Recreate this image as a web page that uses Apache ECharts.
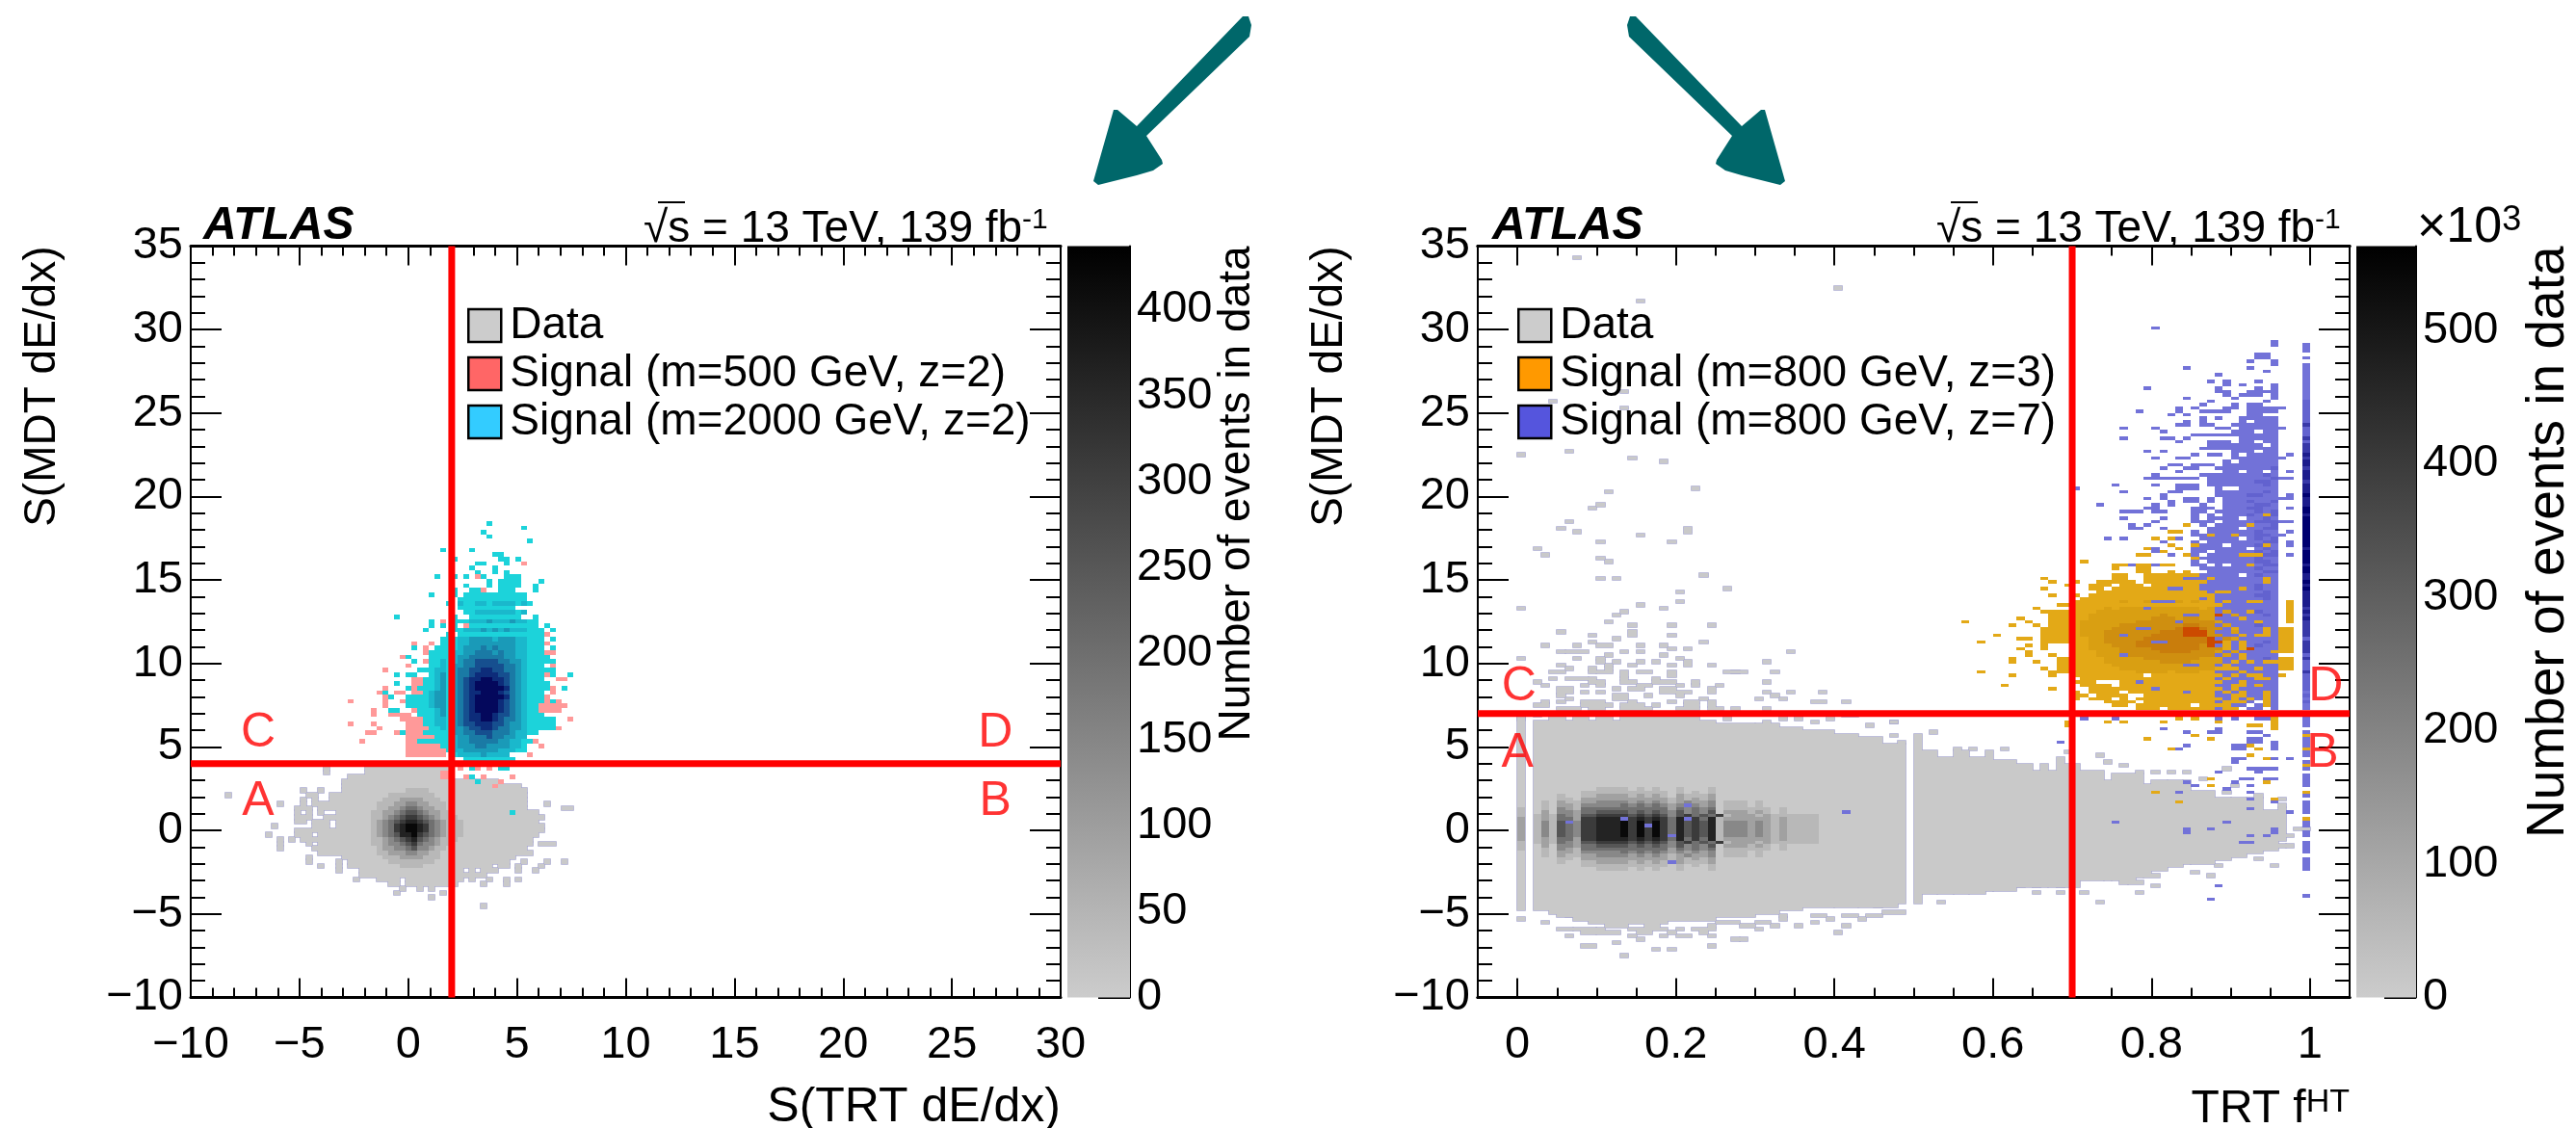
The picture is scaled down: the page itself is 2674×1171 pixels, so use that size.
<!DOCTYPE html>
<html><head><meta charset="utf-8">
<style>html,body{margin:0;padding:0;background:#fff}#c{width:2674px;height:1171px}</style>
<script src="https://cdn.jsdelivr.net/npm/echarts@6/dist/echarts.min.js"></script>
</head><body><div id="c"></div>
<script>
// ---- bins: every tuple below is [row, colStart, colEnd=colStart, level=1, rowEnd=row].
// ---- shaded cores are literal grids: one character per bin, top row first, '.' = nothing in that bin.
const leftBinW = 40/150, leftBinH = 40/150, rightBinW = 0.01, rightBinH = 0.2;
const leftCountLevels = [0,6,43,94,146,197,255,313,364,420];
const rightCountLevels = [0,8,55,120,187,253,325,401,467,538];
const leftMaxCount = 437, rightMaxCount = 563;

const leftData = [[52,32],[52,37,38],[52,39],[51,23],[51,30,44],[50,23],[50,30,44],[49,27,29],[49,30,44],[48,26,52],[47,26,56],[46,19],[46,22],[46,26,57],[45,6],[45,20,21],[45,24,57],[44,19],[44,21],[44,24,57],[43,15],[43,19],[43,21,57],[43,61],[42,18,20],[42,22,57],[42,64,65],[41,18],[41,20],[41,22],[41,25,57],[41,58,59],[40,18,20],[40,23,57],[40,58,60],[39,18,19],[39,21,23],[39,25,58],[39,59],[38,14],[38,21,23],[38,25,58],[38,59,60],[37,18,20],[37,21,60],[36,13],[36,18,20],[36,22,59],[35,15],[35,17],[35,19],[35,20,58],[34,15],[34,20],[34,22,58],[34,60,62],[33,15],[33,21,57],[32,22,58],[31,20],[31,26,55],[30,20],[30,25],[30,27,54],[30,57],[30,61],[30,64],[29,22],[29,25],[29,27,51],[29,53,54],[29,56],[29,60],[28,25],[28,29,46],[28,48],[28,50,52],[28,56],[28,59],[27,29,50],[26,28],[26,32,35],[26,37,46],[26,48],[26,51],[26,54],[26,56],[25,34,35],[25,37,45],[25,50],[25,54],[24,36],[24,39],[24,41],[23,35],[23,43],[22,41],[20,50]];
const leftDataCoreTop = 46, leftDataCoreCol = 28;
const leftDataCore = [
"11111111122221111111",
"11111122222222111111",
"11111222333322211111",
"11112223344332221111",
"11112233455433221111",
"11122334566543322111",
"11122345677654322211",
"11123456788765432221",
"11123457899875432221",
"11123457899875432221",
"11123456889765432221",
"11122345678654322211",
"11122344567544322111",
"11112334456443221111",
"11112233344332211111",
"11111222333322211111",
"11111122222222111111",
"11111111222211111111"];
const leftPink = [[66,27],[61,27],[63,31,31,1,64],[57,29],[59,30,31],[61,31],[60,32],[73,33],[76,36],[74,37],[79,38],[79,41],[77,40,40,1,78],[75,40],[69,33],[68,32],[65,33,33,1,67],[68,35,36],[68,38,39,1,71],[70,41],[59,35],[58,37,40,1,62],[63,34,37],[62,36,38],[54,37,43,1,58],[64,38,40],[66,36,38],[84,43],[82,47,47,1,84],[81,61],[79,61],[77,61,62],[74,62],[72,61],[71,63,64],[68,62,62,1,69],[67,61],[66,63],[64,60,63,1,66],[65,64],[62,65],[60,63],[60,60],[59,58],[57,59],[56,60],[58,57,57,1,59],[56,56],[54,58],[54,46,48],[53,51,54],[97,57],[93,55],[94,49],[91,50],[51,46],[51,49],[51,51],[49,43,44,1,50],[49,47],[49,50],[49,55],[48,53],[47,52]];
const leftCyan = [[106,51],[105,57],[104,50],[103,51],[102,58],[100,43],[100,48],[98,45],[99,52,53],[98,53,54],[98,56],[97,49,50],[97,54],[96,48],[96,52],[95,52],[95,54],[95,49],[94,42],[94,45],[94,47],[94,50],[94,54,56],[93,51],[93,53,56],[93,60],[92,47],[92,51],[92,53,56],[92,59],[91,45],[91,48,49],[91,53,55],[91,59],[90,41],[90,45],[90,47,57],[89,46,57],[88,44],[88,46,50],[88,52,57],[87,46,55],[86,47,56],[85,35],[85,45],[85,48,56],[85,59],[84,41],[84,45,46],[84,48,59],[83,41],[83,43],[83,45],[83,48,59],[83,61],[82,40],[82,45,46],[82,48,60],[82,62],[81,44],[81,46,60],[80,43,60],[80,62],[79,43,60],[78,38],[78,42,60],[78,62],[77,41,60],[76,37],[76,41,61],[75,38],[75,41,62],[74,41,60],[73,39,62],[72,35],[72,37,38],[72,41,60],[72,62],[72,65],[71,40,60],[70,35],[70,40,61],[69,37],[69,39,61],[69,64],[68,33],[68,40,60],[67,34],[67,37],[67,38,60],[66,37,60],[66,62],[65,37,59],[64,34,35],[64,39,59],[63,39,60],[62,40,62],[61,40,62],[60,41,62],[59,36],[59,40,59],[58,42,57],[57,39,41],[57,42,58],[56,43,57],[55,44,57],[54,45,53],[53,47,55],[51,48],[51,53,54],[49,48],[48,49],[41,55]];
const leftCyanCoreTop = 88, leftCyanCoreCol = 40;
const leftCyanCore = [
"......2.12212222121...",
"......................",
"........1222222212....",
"......................",
".......12223222322....",
"......................",
".......22232323222....",
"......................",
"......223333233322....",
"......223333333322....",
"....1.233343433322....",
"...1.2233444343322....",
"...1.2334444443322....",
"..12.2344555544332....",
"..12.3344555554432....",
"..22.3445566554432....",
"..23.3445666655432....",
"..23.3456677665432....",
".123.3456777765432....",
".123.3456777776432....",
".233.3456677765432....",
".233.3456777776432....",
".233.3456777765432....",
".233.3456777765432....",
"..23.3456777765432....",
"..23.3456677655432....",
"..22.3456677654432....",
"..22.3455666554332....",
"..12.3345566544332....",
"...1.3344555444322....",
"...1.2334445443322....",
"....12334444433221....",
".....2333443333221....",
".....2233333322211....",
"......222232222......."];

const rightData = [[26,0,0,1,84],[26,2,3,1,82],[25,4,4,1,82],[24,5,6,1,82],[23,7,8,1,82],[22,9,18,1,82],[23,19,24,1,82],[24,25,29,1,81],[25,30,32,1,81],[26,33,35,1,80],[27,36,39,1,79],[27,40,42,1,78],[27,43,45,1,77],[28,46,48,1,75],[28,50,50,1,78],[31,51,52,1,73],[31,53,54,1,71],[31,55,56,1,73],[31,57,58,1,71],[32,59,59,1,73],[32,60,62,1,70],[33,63,64,1,69],[33,65,65,1,67],[33,66,66,1,69],[33,67,67,1,67],[33,68,68,1,71],[33,69,70,1,69],[35,71,73,1,67],[35,74,74,1,64],[35,75,77,1,66],[36,78,78,1,66],[37,79,79,1,63],[38,80,81,1,64],[39,82,83,1,64],[40,84,84,1,64],[40,85,87,1,61],[41,88,89,1,59],[42,90,91,1,59],[43,92,93,1,59],[44,94,95,1,55],[47,96,96,1,56]];
const rightDataCoreTop = 62, rightDataCoreCol = 0;
const rightDataCore = [
"1.1111111122221212112111211111111111111",
"1.1111112222222222212121211111111111111",
"1.1112112233332323213222311111111111111",
"1.1112213333333333323232311111111111111",
"1.1213223344443434323433412221211111111",
"1.1213324444454545434343412221211111111",
"2.1214325555555555535454512222221211111",
"2.1314435566665656546454613332321211111",
"2.2325436677776767646756572333232222221",
"3.2325537788887878758575823333332322221",
"3.2426547788897979758676824443432322221",
"3.2426547788897979758676824443432322221",
"3.2426547788897979758676824443432322221",
"3.2426547788897979758676824443432322221",
"3.2426547788897979758676824443432322221",
"3.2325537788887878758575823333332322221",
"2.2325436677776767646756572333232222221",
"2.1314435566665656546454613332321211111",
"2.1214325555555555535454512222221211111",
"1.1213324444454545434343412221211111111",
"1.1213223344443434323433412221211111111",
"1.1112213333333333323232311111111111111",
"1.1112112233332323213222311111111111111",
"1.1111112222222222212121211111111111111",
"1.1111111122221212112111211111111111111"];
const rightDataStray = [[221,7],[212,40],[208,15],[181,13],[178,4],[176,13],[162,0],[163,6],[161,14],[160,18],[152,22],[151,11],[147,10],[146,9],[142,6],[140,5],[139,7],[139,21,21,1,140],[138,15],[136,19],[136,10],[134,2],[132,3],[131,10],[130,11],[125,10],[125,12],[126,23],[122,26],[121,20],[118,20],[117,15],[116,0],[116,18],[115,13],[114,12],[112,11],[111,14],[111,19],[111,24],[109,5],[108,9],[108,14,14,1,109],[108,19],[107,12],[106,23],[106,9],[105,3],[105,7],[105,10,11],[105,15],[105,18],[104,19],[104,21],[103,5],[103,6,8],[103,13],[103,15],[103,34],[101,10],[102,11],[102,18],[101,20],[101,0],[101,7],[100,10],[100,12],[100,15],[100,17],[99,21,21,1,100],[100,31],[99,5],[99,11],[99,14],[99,19],[99,24],[98,6],[98,9],[98,11],[97,32],[97,27,28],[97,4,5],[97,9],[97,10,11],[96,13,13,1,97],[96,19,19,1,97],[97,15,16],[97,26,27],[95,4],[95,6,8],[95,9],[95,17],[95,13],[94,22],[94,2],[94,31],[94,13,14],[94,9,10],[94,17,19],[93,3],[93,25],[93,15,16],[93,8],[93,10],[93,20],[93,22],[92,12],[92,14,15],[91,5,6,1,92],[91,8],[91,10],[91,18,19,1,92],[91,20,21],[91,24,24,1,92],[91,31],[91,34],[91,38],[90,5],[89,6],[90,20],[89,12,13,1,90],[90,16],[89,23],[89,30],[90,32],[89,33],[88,3],[88,41],[88,5],[88,8,10],[88,19],[88,21,22],[88,37,38],[87,24,24,1,88],[88,14],[87,2,3],[87,8,11],[87,13,15],[87,17],[87,21,22],[86,5,7],[86,9,10],[86,13,16],[86,20,22],[86,24,25],[86,27],[86,31],[83,0,0,1,84],[84,2],[83,4,5],[83,7,8],[83,10,11],[84,15],[83,13,22],[83,26],[83,33],[83,35],[82,37],[83,39],[84,41,42],[81,44],[82,47],[82,31],
[23,0],[22,3],[24,6],[18,6],[15,8,9],[16,12],[12,13],[14,17],[14,19],[15,24],[18,24],[17,28],[17,27],[18,20,21],[18,18],[19,10,12],[17,15],[20,5,6],[19,8,9],[20,10],[20,20],[21,24],[21,32],[21,41],[23,43],[23,39],[24,41,42],[24,37,38],[24,33],[28,53],[27,45],[27,46,47],[28,73],[31,71],[31,68],[33,68],[31,65],[33,65],[33,63],[31,78],[34,76],[34,77,78],[33,80],[36,79,80],[37,85],[36,87],[39,88],[41,93],[39,95],[45,90,91],[45,95,96],[45,97],[48,97],[50,98],[50,99],
[20,7,9],[21,11,13],[20,14,16],[19,15,16],[20,17,18],[19,19],[18,14],[21,16,17],[20,22,24],[19,23],[22,25,27],[21,28,29],[20,30],[22,30,31],[23,33],[21,35],[19,40],[22,37],[24,44,45],[25,46,48],
[82,47],[78,47],[76,48],[79,52],[74,55],[74,57],[74,61],[73,69],[72,73],[70,74],[69,76],[67,78],[67,80],[67,82],[67,84],[65,86],[68,89],[63,90],[60,93],[57,96],[59,96],[61,89]];
const rightOrange = [[112,56],[106,58],[108,60],[97,58],[100,62,62,1,101],[96,62],[93,61],[111,62],[113,63],[107,63],[107,64],[112,64],[105,64],[104,63],[103,64],[102,64],[111,65],[100,65],[116,65],[125,66],[122,66],[124,67],[120,67],[115,66],[98,66],[92,67],[96,67],[102,67],[123,69],[104,66,66,1,110],[106,67,69,1,114],[98,68,69,1,101],[97,67,69],[117,68,69],[115,67,69],
[86,78,80],[86,82,90],[86,92],[87,75,76],[87,78,84],[87,86,91],[88,74,77],[88,79,92],[89,70],[89,72,74],[89,76],[89,78,90],[89,92],[89,94],[90,70,71],[90,73,76],[90,79,93],[91,70],[91,72,75],[91,77,93],[92,72,93],[93,71,74],[93,76,93],[94,70,72],[94,76,95],[95,71,95],[96,70,78],[96,80,96],[97,70,95,1,118],[98,96,97,1,101],[103,96,97,1,110],[112,97,97,1,118],[119,71,95],[120,70],[120,72,95],[121,73,95],[122,72,73],[122,75,95],[123,72,74],[123,76,78],[123,80,95],[124,70],[124,73,77],[124,79,95],[125,75,76],[125,79,92],[126,75,76],[126,79,86],[126,88,90],[127,78,79],[127,82],[127,84],[127,87],[128,75],[128,78,79],[129,76],[129,80],
[137,80],[139,82],[141,84],[139,83],[137,82],[135,82],[134,79],[132,79],[132,78],[133,81],[134,83],[138,86,87],[130,71],[130,89],[135,85],[131,85],[129,75],[129,78,79],[129,81,82],[132,84],[134,87],
[81,69,69,1,82],[82,74],[82,76],[84,77],[82,81],[83,83],[83,85],[82,88],[81,92,93],[80,95,95,1,84],[77,79],[78,85],[77,87],[75,91,92],[74,82],[74,93],[72,92],[71,94],[65,87],[63,87],[64,94],[61,80],[58,83],[59,95]];
const rightOrangeCoreTop = 118, rightOrangeCoreCol = 70;
const rightOrangeCore = [
"......2..2..22.2.......",
".......................",
"....2.2222222222.2.....",
"...22222222222222222...",
"..2222222223222222222..",
"..2222222233323322222..",
".22222223333333333222..",
".22222333333334433322..",
".22223333333344443322..",
".22233333334444453322..",
".22233333344444553332..",
"..2233333444444443332..",
"..2233334444444444332..",
"..2223334444444434332..",
"..2222333344444433322..",
"...222333334444333222..",
"...222233333333333222..",
"....22222333333322222..",
"....222222233332222....",
".....22222222222222....",
"......222222222222.....",
"........2222.222......."];
const rightOrangeRed = [[108,84,85,5,110],[105,87,88,5,107],[114,88,88,5,115]];
const rightPurple = [[191,99],[193,99,99,1,194],[195,99],[30,99],
[200,80],[196,95],[195,95],[191,93,94,1,192],[190,92],[190,95],[189,95],[188,84],[188,92],[187,94],[186,88],[184,89],[184,93],[184,87],[183,91],[182,95,95,1,183],[183,89],[182,88],[182,93],[181,92],[181,93],[181,88,89],[181,94,95],[182,79],[179,84],[180,89],[179,90],[180,91],[180,92,93],[179,95,95,1,180],[178,94],[178,87],[177,86],[175,83,83,1,176],[176,89],[176,90,90,1,177],[174,92,93,1,177],[175,94,95,1,176],[176,85],[175,86,87],[175,88],[175,89],[176,96],[175,78],[174,82],[174,84],[173,88],[173,86],[171,84,84,1,172],[171,86,86,1,172],[171,87],[171,90],[171,83],[170,88,89],[170,96],[170,76],[170,80],[169,81],[168,85],[168,86,87],[168,88,89],[168,90],[167,84],[167,76],[167,81,82],[164,87,89,1,166],[166,83],[164,86],[163,79],[163,81],[162,87,88],[162,85],[161,83,84],[161,80],[162,97],[161,96],[159,82,83],[158,81],[159,85,87],[158,88,89],[158,84,85],[156,80],[157,97],[157,83],[156,86,89],[155,84,85],[155,79,84],[154,87,89,1,155],[155,97],[155,96],[153,80],[152,83,83,1,153],[153,84,85],[153,87,88],[153,75],[151,76],[152,70],[151,82,83],[152,84,85],[150,88,89,1,151],[149,87],[149,81,81,1,150],[149,79],[148,84,85,1,149],[149,97,97,1,150],[149,96],[147,82,82,1,148],[147,73],[146,80,80,1,147],[146,85],[146,79],[145,77],[145,76],[145,78],[145,80,81],[146,97],[145,85,86],[145,88],[143,76],[143,81],[143,85,85,1,144],[142,97],[142,96],[142,80],[141,77],[140,77,78],[141,79],[140,81],[142,85],[139,97],[138,96],[137,74],[137,76],[137,83],[136,81],[135,97,97,1,136],[133,80,80,1,134],[132,82],[132,97],[129,77],[129,80],[125,84,86],[122,82,83],[118,80,82],[114,84,85],[110,78,79],[112,83],[106,80,81],[102,76],[99,84,85],[94,78],[92,80],[91,84],[108,76],[116,79],
[83,88],[83,93,94],[83,90],[79,88,88,1,80],[79,84],[79,87],[80,81],[79,92],[78,94],[79,93],[76,92,93,1,77],[76,95],[74,90,91,1,75],[74,95,95,1,75],[75,84],[74,83],[71,90,91],[70,90],[71,95],[71,97],[68,92,95],[67,93],[67,88],[65,91],[65,92],[65,94,95],[64,84],[63,85],[64,90],[63,92],[62,89],[61,83],[61,92],[59,92],[58,95],[56,92],[55,97],[52,75],[52,89],[49,84,84,1,50],[50,87],[49,95,95,1,50],[48,92],[48,94],[46,91,92],[76,68],[83,71],[83,75],
[52,6],[53,13],[51,16],[48,19],[57,21],[53,21],[40,19],[55,41],[33,88],[29,87]];
const rightPurpleCoreTop = 174, rightPurpleCoreCol = 84;
const rightPurpleCore = [
"........11...",".......11111.",".......1.111.","......111111.",".......11111.","......111.11.","......111111.",".......11111.",".......11.11.","......1111.1.",
"......111111.","......111.11.","......1.1111.","......111111.",".....1.11111.",".....1111111.","......111112.",".....11.11.1.","......111121.","....11111112.",
"....1.111221.",".....1111121.","....1..11111.","....1.111121.",".....1112211.",".....1111111.","...1.1112112.","..1..1111221.","..11.1112211.","..1.11111212.",
"...1.1112122.","...1111.1121.","..11.1111222.","..1.11112112.","...1111.1122.",".1.111111211.",".11.11111221.","..11111.1212.",".1.111111122.","..111.111221.",
".1111111.121.",".11.11111212.",".1.111111122.","..1111111211.",".1.111111221.",".11.1.111122.","..1111111211.","...111111122.","..11111.1211.","..1.11111121.",
"...1111111.1.","..1111111211.","..11111.1211.","...1.1111121.","....11111221.","..1.11111121.","....1.11.111.",".....1111111.","....11111111.","....1.111211.",
".....1.11121.","....111.1111.",".....1111111.","....1.111211.",".....1.11121.","....11.11111.",".....1111.11.","....1..11111.",".....11.1121.","....111.1211.",
".....11.1111.",".....1.11111.","....1.1.1111.",".....11.1121.",".....1.1.111.","....1.111111.",".....1.11.11.","....111.1111.",".....1.1.111.","....1.111.11.",
".....11.1111.","....11..1.11.",".....1.11111.","....1.1.11.1.","....11..1111.",".....1.1.111.","....1...1.11.","......11.111.","....1...11.1."];
const rightStripTop = 189, rightStripCol = 99;
const rightStripLevels = "11111111111222222232223233343443444344454445545555555554555545544545444443434333332333323222322222121211";
const rightStripBelowTop = 84;
const rightStripBelow = "1111.11111111.111.1111.11.1111.111.11.1111.1111";
const rightOrangeTop = [[124,94,94,1,125],[108,94,94,1,110],[104,92,92,5,104],[112,93],[108,91],[115,92],[96,92,93],[95,94],[93,93],[87,94,94,1,91],[129,92],[135,94],[118,93],[100,94,95],[104,89,89,1,106],[110,90],[98,88,90],[121,89],[113,91],[103,95],[132,91,93],[138,90],[141,92],[144,94],[74,99],[78,99],[61,99],[53,99],[69,99]];

const arrowPoints = [[1156,114],[1160,114],[1180,131],[1290,17],[1296,17],[1299,26],[1297,38],[1190,141],[1206,166],[1207,170],[1197,177],[1180,182],[1140,192],[1135,188]];
const leftRegionLabels = [[-6.9,5.8,'C'],[-6.9,1.7,'A'],[27,5.8,'D'],[27,1.7,'B']];
const rightRegionLabels = [[0.002,8.6,'C'],[0,4.6,'A'],[1.02,8.6,'D'],[1.016,4.6,'B']];
const leftCutX = 2, leftCutY = 4, rightCutX = 0.7, rightCutY = 7;
const rightMajorTicks = [0,0.2,0.4,0.6,0.8,1];
const rightMinorTicks = [0,0.05,0.1,0.15,0.2,0.25,0.3,0.35,0.4,0.45,0.5,0.55,0.6,0.65,0.7,0.75,0.8,0.85,0.9,0.95,1];
const rightBarTicks = [0,100,200,300,400,500];
const leftBarTicks = [0,50,100,150,200,250,300,350,400];

const greyRamp = ['#cccccc','#000000'];
const cyanRamp = ['#1cd3da','#1ab8cc','#1a9ab8','#1a7aa5','#164f8f','#0d2c7a','#04085c'];
const orangeRamp = ['#e3a917','#d99f12','#cf8f10','#c97d0c','#cc4a00'];
const purpleRamp = ['#7272d8','#6262cf','#3838a8','#1c1c8c','#000070'];

const font = 'Liberation Sans';
const TICK = 47;

function grid(col, topRow, rows) {
  const out = [];
  rows.forEach((s, i) => {
    for (let k = 0; k < s.length; k++) {
      if (s[k] !== '.') out.push([topRow - i, col + k, col + k, +s[k]]);
    }
  });
  return out;
}
function cells(list, binW, binH, xOrigin, yOrigin, levels) {
  return list.map(t => {
    const [r, c0, c1 = c0, L = 1, r1 = r] = t;
    return [xOrigin + c0 * binW, yOrigin + r * binH, xOrigin + (c1 + 1) * binW, yOrigin + (r1 + 1) * binH, levels ? levels[L] : L];
  });
}
const leftCells = (list, levels) => cells(list, leftBinW, leftBinH, -10, -10, levels);
const rightCells = (list, levels) => cells(list, rightBinW, rightBinH, 0, -10, levels);

function cellSeries(name, data, axisX, axisY, colorAt, legendColor, edge) {
  return {
    type: 'custom', name, silent: true, clip: true, progressive: 0, animation: false,
    xAxisIndex: axisX, yAxisIndex: axisY, data,
    itemStyle: {color: legendColor},
    encode: {x: [0, 2], y: [1, 3]},
    renderItem(params, api) {
      const a = api.coord([api.value(0), api.value(1)]);
      const b = api.coord([api.value(2), api.value(3)]);
      const x = Math.round(a[0]), x2 = Math.round(b[0]), y = Math.round(b[1]), y2 = Math.round(a[1]);
      return {type: 'rect', shape: {x, y, width: x2 - x, height: y2 - y},
        style: edge ? {fill: '#c9c9c9', stroke: '#aaaacf', lineWidth: 1.6} : {fill: colorAt(api.value(4))}};
    }
  };
}
const greyAt = max => v => echarts.color.lerp(v / max, greyRamp);
const rampAt = ramp => L => ramp[Math.min(L - 1, ramp.length - 1)];

function cutSeries(x, y, lo, hi, ax, ay) {
  return [[[x, -10], [x, 35]], [[lo, y], [hi, y]]].map(d => ({
    type: 'line', data: d, xAxisIndex: ax, yAxisIndex: ay, showSymbol: false, symbol: 'none', silent: true, z: 6,
    lineStyle: {color: '#ff0000', width: 7, cap: 'butt'}
  }));
}
function regionSeries(data, ax, ay) {
  return {type: 'scatter', data, xAxisIndex: ax, yAxisIndex: ay, symbolSize: 1, silent: true, z: 7,
    itemStyle: {color: 'transparent'},
    label: {show: true, position: 'inside', formatter: p => p.value[2], color: '#ff0000', fontFamily: font, fontSize: 50}};
}
const tickStyle = {color: '#000', width: 2};
const minus = v => String(v).replace('-', '\u2212');
function mainX(g, pos, extra) {
  return Object.assign({type: 'value', gridIndex: g, position: pos, splitLine: {show: false},
    axisLine: {show: true, onZero: false, lineStyle: {color: '#000', width: 3}}}, extra);
}
function yAx(g, pos, labels, name) {
  const a = {type: 'value', gridIndex: g, position: pos, min: -10, max: 35, interval: 5, splitLine: {show: false},
    axisLine: {show: true, onZero: false, lineStyle: {color: '#000', width: 2}},
    axisTick: {show: true, inside: true, length: 32, lineStyle: tickStyle},
    minorTick: {show: true, splitNumber: 5, length: 15, lineStyle: tickStyle},
    axisLabel: {show: labels, fontFamily: font, fontSize: TICK, color: '#000', margin: 8, formatter: minus, padding: [20, 0, 0, 0]}};
  if (name) {
    a.name = name; a.nameLocation = 'end'; a.nameRotate = 90; a.nameGap = 0; a.nameMoveOverlap = false;
    a.nameTextStyle = {fontFamily: font, fontSize: 46, color: '#000', align: 'right', verticalAlign: 'bottom', padding: [0, 0, 131, 0]};
  }
  return a;
}
function barAxes(g, max, ticks, fs, pad) {
  return {
    x: {type: 'category', gridIndex: g, data: ['counts'], show: false},
    y: {type: 'value', gridIndex: g, position: 'right', min: 0, max, splitLine: {show: false},
      axisLine: {show: true, onZero: false, lineStyle: {color: '#000', width: 2}},
      axisTick: {show: true, inside: true, length: 33, customValues: ticks, lineStyle: tickStyle},
      axisLabel: {fontFamily: font, fontSize: TICK, color: '#000', margin: 7, customValues: ticks, padding: [20, 0, 0, 0]},
      name: 'Number of events in data', nameLocation: 'end', nameRotate: 90, nameGap: 0, nameMoveOverlap: false,
      nameTextStyle: {fontFamily: font, fontSize: fs, color: '#000', align: 'right', verticalAlign: 'top', padding: [pad, 0, 0, 0]}}
  };
}
function barSeries(max, ax, ay) {
  return {type: 'bar', data: [max], xAxisIndex: ax, yAxisIndex: ay, barWidth: '100%', silent: true,
    itemStyle: {color: new echarts.graphic.LinearGradient(0, 0, 0, 1, [{offset: 0, color: '#000000'}, {offset: 1, color: '#cccccc'}])}};
}
function legendOf(left, entries) {
  return {left, top: 315, padding: 0, orient: 'vertical', itemWidth: 34, itemHeight: 34, itemGap: 4, selectedMode: false,
    textStyle: {fontFamily: font, fontSize: 46, color: '#000', padding: [0, 0, 0, 4]},
    data: entries.map(e => ({name: e[0], icon: 'rect', itemStyle: {color: e[1], borderColor: '#000', borderWidth: 2.5}}))};
}
function headerTexts(atlasX, lumiX, lumiLineX) {
  return [
    {type: 'text', style: {x: atlasX, y: 259, text: 'ATLAS', font: 'italic bold 48px "Liberation Sans"', fill: '#000', verticalAlign: 'bottom'}},
    {type: 'text', style: {x: lumiX, y: 262, text: '{a|\u221As = 13 TeV, 139 fb}{b|-1}', verticalAlign: 'bottom',
      rich: {a: {font: '46px "Liberation Sans"', color: '#000'}, b: {font: '30px "Liberation Sans"', color: '#000', verticalAlign: 'top', padding: [0, 0, 18, 0]}}}},
    {type: 'line', shape: {x1: lumiLineX, y1: 210, x2: lumiLineX + 28, y2: 210}, style: {stroke: '#000', lineWidth: 2}}
  ];
}

const chart = echarts.init(document.getElementById('c'), null, {renderer: 'canvas', width: 2674, height: 1171});
const leftBar = barAxes(1, leftMaxCount, leftBarTicks, 46, 88);
const rightBar = barAxes(3, rightMaxCount, rightBarTicks, 55, 110);

const leftDataAll = leftData.concat(grid(leftDataCoreCol, leftDataCoreTop, leftDataCore));
const rightDataAll = rightData.concat(rightDataStray);
const purpleAll = grid(rightPurpleCoreCol, rightPurpleCoreTop, rightPurpleCore)
  .concat(rightPurple, grid(rightStripCol, rightStripTop, rightStripLevels.split('')), grid(rightStripCol, rightStripBelowTop, rightStripBelow.split('')));

const noBounds = {outerBoundsMode: 'none', containLabel: false};
chart.setOption({
  animation: false,
  backgroundColor: '#fff',
  grid: [
    Object.assign({left: 198, top: 255.5, width: 903, height: 780}, noBounds),
    Object.assign({left: 1108, top: 255.5, width: 65, height: 780}, noBounds),
    Object.assign({left: 1534, top: 255.5, width: 905, height: 780}, noBounds),
    Object.assign({left: 2446, top: 255.5, width: 62, height: 780}, noBounds)
  ],
  xAxis: [
    mainX(0, 'bottom', {min: -10, max: 30, interval: 5,
      axisTick: {show: true, inside: true, length: 20, lineStyle: tickStyle},
      minorTick: {show: true, splitNumber: 5, length: 10, lineStyle: tickStyle},
      axisLabel: {fontFamily: font, fontSize: TICK, color: '#000', margin: 26, formatter: minus},
      name: 'S(TRT dE/dx)', nameLocation: 'end', nameGap: 0, nameMoveOverlap: false,
      nameTextStyle: {fontFamily: font, fontSize: 50, color: '#000', align: 'right', verticalAlign: 'top', padding: [90, 0, 0, 0]}}),
    mainX(0, 'top', {min: -10, max: 30, interval: 5,
      axisTick: {show: true, inside: true, length: 20, lineStyle: tickStyle},
      minorTick: {show: true, splitNumber: 5, length: 10, lineStyle: tickStyle},
      axisLabel: {show: false}}),
    leftBar.x,
    mainX(2, 'bottom', {min: -0.05, max: 1.05,
      axisTick: {show: true, inside: true, length: 20, customValues: rightMajorTicks, lineStyle: tickStyle},
      axisLabel: {fontFamily: font, fontSize: TICK, color: '#000', margin: 26, customValues: rightMajorTicks},
      name: '{a|TRT f}{b|HT}', nameLocation: 'end', nameGap: 0, nameMoveOverlap: false,
      nameTextStyle: {color: '#000', align: 'right', verticalAlign: 'top', padding: [92, 0, 0, 0],
        rich: {a: {fontFamily: font, fontSize: 48, color: '#000'}, b: {fontFamily: font, fontSize: 34, color: '#000', verticalAlign: 'top', padding: [0, 0, 14, 0]}}}}),
    mainX(2, 'top', {min: -0.05, max: 1.05,
      axisTick: {show: true, inside: true, length: 20, customValues: rightMajorTicks, lineStyle: tickStyle},
      axisLabel: {show: false}}),
    mainX(2, 'bottom', {min: -0.05, max: 1.05,
      axisTick: {show: true, inside: true, length: 10, customValues: rightMinorTicks, lineStyle: tickStyle},
      axisLabel: {show: false}}),
    mainX(2, 'top', {min: -0.05, max: 1.05,
      axisTick: {show: true, inside: true, length: 10, customValues: rightMinorTicks, lineStyle: tickStyle},
      axisLabel: {show: false}}),
    rightBar.x
  ],
  yAxis: [
    yAx(0, 'left', true, 'S(MDT dE/dx)'), yAx(0, 'right', false), leftBar.y,
    yAx(2, 'left', true, 'S(MDT dE/dx)'), yAx(2, 'right', false), rightBar.y
  ],
  legend: [
    legendOf(485, [['Data', '#cccccc'], ['Signal (m=500 GeV, z=2)', '#ff6666'], ['Signal (m=2000 GeV, z=2)', '#33ccff']]),
    legendOf(1575, [['Data', '#cccccc'], ['Signal (m=800 GeV, z=3)', '#ff9900'], ['Signal (m=800 GeV, z=7)', '#5555dd']])
  ],
  series: [
    cellSeries('dataEdgeLeft', leftCells(leftData, leftCountLevels), 0, 0, null, '#cccccc', true),
    cellSeries('Data', leftCells(leftDataAll, leftCountLevels), 0, 0, greyAt(leftMaxCount), '#cccccc'),
    cellSeries('Signal (m=500 GeV, z=2)', leftCells(leftPink), 0, 0, rampAt(['#ff9999']), '#ff6666'),
    cellSeries('Signal (m=2000 GeV, z=2)', leftCells(leftCyan.concat(grid(leftCyanCoreCol, leftCyanCoreTop, leftCyanCore))), 0, 0, rampAt(cyanRamp), '#33ccff'),
    ...cutSeries(leftCutX, leftCutY, -10, 30, 0, 0),
    regionSeries(leftRegionLabels, 0, 0),
    barSeries(leftMaxCount, 2, 2),
    cellSeries('dataEdgeRight', rightCells(rightDataAll, rightCountLevels), 3, 3, null, '#cccccc', true),
    cellSeries('Data', rightCells(rightDataAll.concat(grid(rightDataCoreCol, rightDataCoreTop, rightDataCore)), rightCountLevels), 3, 3, greyAt(rightMaxCount), '#cccccc'),
    cellSeries('Signal (m=800 GeV, z=3)', rightCells(rightOrange.concat(grid(rightOrangeCoreCol, rightOrangeCoreTop, rightOrangeCore), rightOrangeRed)), 3, 3, rampAt(orangeRamp), '#ff9900'),
    cellSeries('Signal (m=800 GeV, z=7)', rightCells(purpleAll), 3, 3, rampAt(purpleRamp), '#5555dd'),
    cellSeries('signalOverlap', rightCells(rightOrangeTop), 3, 3, rampAt(orangeRamp), '#ff9900'),
    ...cutSeries(rightCutX, rightCutY, -0.05, 1.05, 3, 3),
    regionSeries(rightRegionLabels, 3, 3),
    barSeries(rightMaxCount, 7, 5)
  ],
  graphic: [
    {type: 'polygon', shape: {points: arrowPoints}, style: {fill: '#00676a'}},
    {type: 'polygon', shape: {points: arrowPoints.map(p => [2988 - p[0], p[1]])}, style: {fill: '#00676a'}},
    ...headerTexts(211, 668, 683),
    ...headerTexts(1549, 2010, 2025),
    {type: 'text', style: {x: 2509, y: 263, text: '{a|\u00d710}{b|3}', verticalAlign: 'bottom',
      rich: {a: {font: '52px "Liberation Sans"', color: '#000'}, b: {font: '36px "Liberation Sans"', color: '#000', verticalAlign: 'top', padding: [0, 0, 14, 0]}}}}
  ]
});
</script></body></html>
